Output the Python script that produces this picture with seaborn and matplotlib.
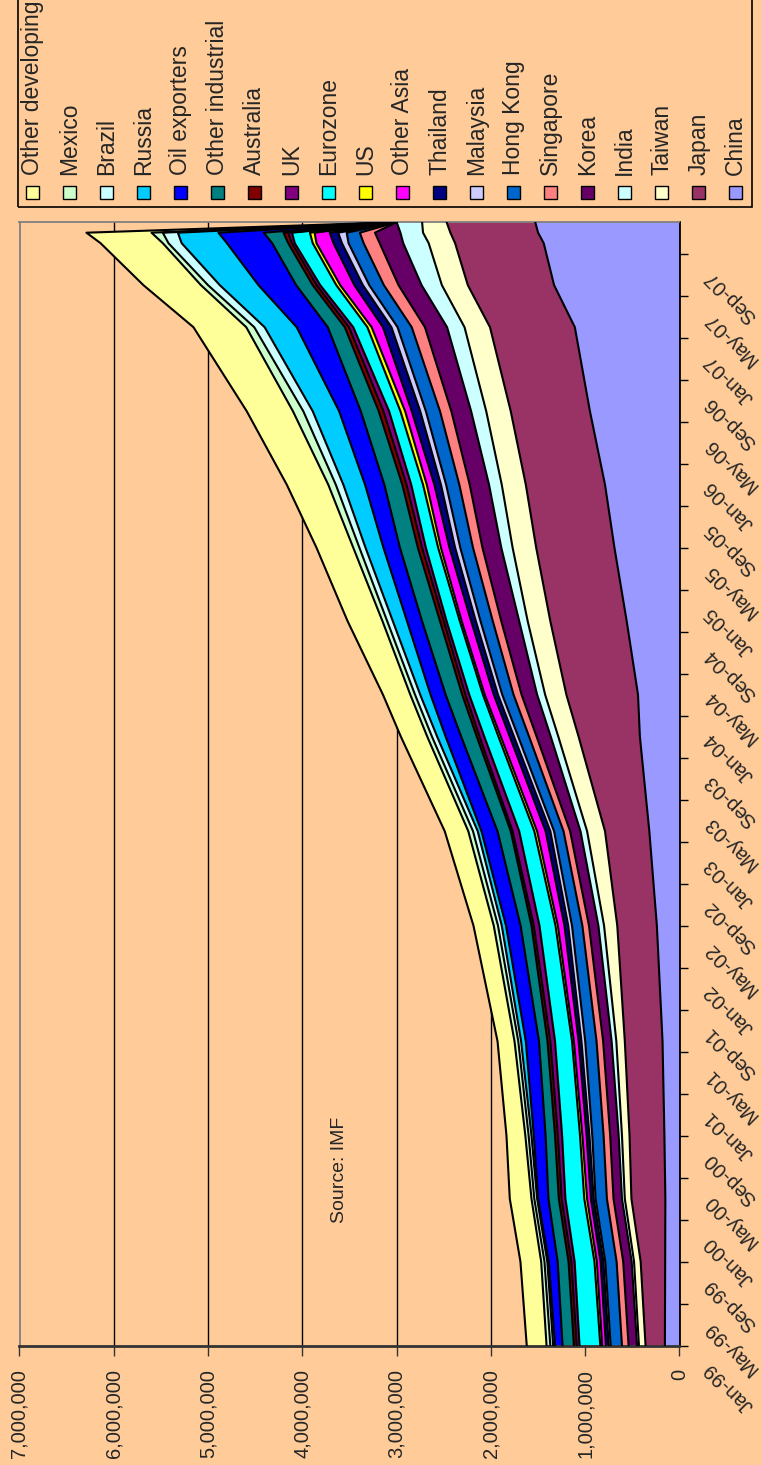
import numpy as np
import matplotlib
matplotlib.use("Agg")
import matplotlib.pyplot as plt
import seaborn as sns
from matplotlib.patches import Rectangle

months = [0, 8, 14, 20, 29, 40, 49, 58, 62, 69, 76, 82, 89, 97, 101, 105, 106, 107]

# reserves in $bn (axis is in $m)
china = [155, 152, 150, 160, 180, 240, 320, 420, 440, 560, 690, 790, 950, 1110, 1330, 1440, 1500, 1530]
japan = [205, 260, 360, 370, 400, 420, 470, 650, 760, 810, 830, 840, 840, 900, 915, 940, 930, 940]
taiwan = [70, 70, 70, 80, 90, 140, 190, 215, 225, 240, 250, 255, 260, 270, 275, 280, 290, 260]
india = [20, 25, 30, 35, 50, 60, 70, 80, 85, 90, 120, 135, 160, 185, 215, 270, 240, 270]
korea = [90, 90, 90, 90, 90, 100, 110, 150, 165, 190, 200, 205, 210, 235, 245, 250, 270, 0]
singapore = [70, 70, 70, 70, 70, 70, 70, 80, 85, 90, 100, 110, 120, 140, 155, 170, 160, 0]
hong_kong = [120, 120, 120, 120, 120, 110, 100, 115, 120, 130, 135, 140, 150, 150, 155, 160, 140, 0]
malaysia = [20, 20, 20, 30, 40, 40, 40, 45, 45, 50, 55, 55, 60, 65, 68, 70, 90, 0]
thailand = [30, 30, 30, 30, 30, 40, 50, 45, 45, 50, 60, 70, 90, 90, 90, 90, 90, 0]
other_asia = [40, 40, 40, 45, 50, 70, 90, 95, 95, 100, 90, 80, 70, 120, 150, 180, 160, 0]
us = [20, 25, 30, 25, 20, 25, 30, 25, 20, 20, 30, 40, 50, 45, 42, 40, 50, 0]
eurozone = [220, 210, 200, 190, 180, 170, 160, 150, 145, 140, 130, 125, 120, 150, 170, 190, 190, 0]
uk = [30, 35, 40, 45, 50, 60, 70, 50, 40, 30, 40, 50, 60, 45, 38, 30, 40, 0]
australia = [30, 30, 30, 30, 30, 25, 20, 30, 35, 40, 45, 45, 50, 45, 42, 40, 50, 0]
other_industrial = [120, 115, 110, 100, 90, 115, 140, 165, 175, 190, 190, 190, 190, 180, 175, 170, 210, 0]
oil_exporters = [80, 95, 110, 125, 140, 155, 170, 165, 160, 160, 175, 205, 230, 330, 400, 480, 480, 0]
russia = [20, 15, 10, 25, 50, 45, 40, 90, 110, 150, 190, 230, 280, 340, 410, 480, 430, 0]
brazil = [30, 30, 30, 30, 30, 40, 50, 55, 55, 60, 65, 80, 100, 110, 125, 140, 160, 0]
mexico = [40, 35, 30, 35, 40, 45, 50, 50, 50, 50, 65, 80, 110, 85, 75, 60, 120, 0]
other_developing = [210, 220, 230, 200, 180, 215, 250, 280, 290, 370, 390, 440, 490, 560, 610, 660, 690, 0]

names = ["China", "Japan", "Taiwan", "India", "Korea", "Singapore", "Hong Kong",
         "Malaysia", "Thailand", "Other Asia", "US", "Eurozone", "UK", "Australia",
         "Other industrial", "Oil exporters", "Russia", "Brazil", "Mexico",
         "Other developing"]
values = [china, japan, taiwan, india, korea, singapore, hong_kong, malaysia,
          thailand, other_asia, us, eurozone, uk, australia, other_industrial,
          oil_exporters, russia, brazil, mexico, other_developing]
colors = ["#9999FF", "#993366", "#FFFFCC", "#CCFFFF", "#660066", "#FF8080",
          "#0066CC", "#CCCCFF", "#000080", "#FF00FF", "#FFFF00", "#00FFFF",
          "#800080", "#800000", "#008080", "#0000FF", "#00CCFF", "#CCFFFF",
          "#CCFFCC", "#FFFF99"]

tick_months = list(range(0, 105, 4))
tick_labels = [f"{['Jan', 'May', 'Sep'][(m % 12) // 4]}-{(99 + m // 12) % 100:02d}"
               for m in tick_months]
value_ticks = list(range(0, 7000001, 1000000))

sns.set_theme(style="white")
plt.rcParams['font.family'] = ['Liberation Sans', 'DejaVu Sans']

BG = "#FFCC99"
W, H = 762, 1465
FS = 14.5

fig = plt.figure(figsize=(W / 100, H / 100), dpi=100, facecolor=BG)
# the chart is drawn turned a quarter turn: dates run upward, values leftward
ax = fig.add_axes([19.5 / W, 1 - 1345.7 / H, 660 / W, 1123.5 / H])
ax.set_facecolor(BG)

m = np.array(months, dtype=float)
base = np.zeros(len(m))
for name, vals, col in zip(names, values, colors):
    top = base + np.array(vals, dtype=float) * 1000
    ax.fill_betweenx(m, base, top, facecolor=col, edgecolor="none", zorder=2)
    sns.lineplot(x=top, y=m, orient="y", sort=False, estimator=None,
                 color="black", linewidth=1.5, ax=ax, zorder=3)
    base = top

ax.set_xlim(7000000, 0)
ax.set_ylim(0, 107)

ax.set_xticks(value_ticks)
ax.set_xticklabels([f"{v:,}" for v in value_ticks], rotation=90, fontsize=FS)
ax.xaxis.grid(True, color="black", linewidth=1)
ax.yaxis.grid(False)
ax.set_axisbelow(True)
ax.tick_params(axis="x", direction="out", length=7, width=1, color="#333333",
               pad=10, bottom=True)

ax.yaxis.tick_right()
ax.set_yticks(tick_months)
ax.tick_params(axis="y", direction="out", length=6, width=1, color="black",
               labelright=False, right=True)
for mo, lab in zip(tick_months, tick_labels):
    ax.annotate(lab, xy=(1, mo), xycoords=("axes fraction", "data"),
                xytext=(28, -20), textcoords="offset pixels", rotation=135,
                rotation_mode="anchor", ha="right", va="center", fontsize=FS)

ax.set_xlabel("")
ax.set_ylabel("")
for side in ["left", "top"]:
    ax.spines[side].set_color("#808080")
    ax.spines[side].set_linewidth(1.3)
ax.spines["right"].set_color("black")
ax.spines["right"].set_linewidth(1.3)
ax.spines["bottom"].set_color("#333333")
ax.spines["bottom"].set_linewidth(2)

fig.text(340 / W, 1 - 1170 / H, "Source: IMF", rotation=90, ha="center",
         va="center", fontsize=FS - 0.5)

# legend, drawn by hand because its entries run sideways
fig.add_artist(Rectangle((18 / W, 1 - 207 / H), 734 / W, 220 / H,
                         transform=fig.transFigure, fill=False,
                         edgecolor="black", linewidth=1.2))
for i, (name, col) in enumerate(zip(names, colors)):
    cx = 735.7 - 37 * i
    fig.add_artist(Rectangle(((cx - 6.5) / W, 1 - 199 / H), 13 / W, 13 / H,
                             transform=fig.transFigure, facecolor=col,
                             edgecolor="black", linewidth=1))
    fig.text(cx / W, 1 - 175 / H, name, rotation=90, ha="center", va="bottom",
             fontsize=16.5)

fig.savefig("out.png", dpi=100, facecolor=BG)
